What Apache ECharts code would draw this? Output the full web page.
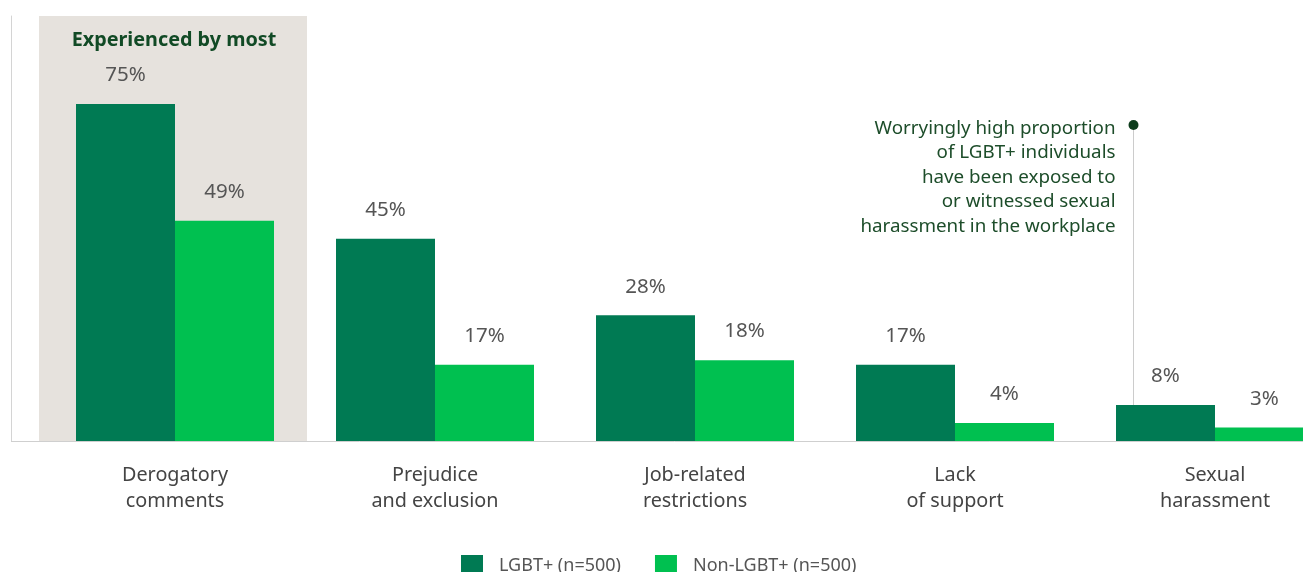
<!DOCTYPE html>
<html><head><meta charset="utf-8">
<script src="https://cdn.jsdelivr.net/npm/echarts@6/dist/echarts.min.js"></script>
<style>html,body{margin:0;padding:0;background:#fff}#c{width:1303px;height:572px}</style>
</head><body><div id="c"></div>
<script>
const categories = ['Derogatory\ncomments', 'Prejudice\nand exclusion', 'Job-related\nrestrictions', 'Lack\nof support', 'Sexual\nharassment'];
const lgbtValues = [75, 45, 28, 17, 8];
const nonLgbtValues = [49, 17, 18, 4, 3];
const seriesNames = ['LGBT+ (n=500)', 'Non-LGBT+ (n=500)'];
const highlightTitle = 'Experienced by most';
const noteText = 'Worryingly high proportion\nof LGBT+ individuals\nhave been exposed to\nor witnessed sexual\nharassment in the workplace';

const FONT = '"Noto Sans", "Open Sans", sans-serif';
const chart = echarts.init(document.getElementById('c'));
const labelStyle = {show: true, position: 'top', distance: 18, formatter: '{c}%', color: '#555', fontSize: 20.5, fontFamily: FONT};
chart.setOption({
  animation: false,
  grid: {left: 45, top: 16, width: 1300, height: 425, outerBoundsMode: 'none', containLabel: false},
  legend: {
    top: 550, left: 456, itemWidth: 22, itemHeight: 22, itemGap: 34,
    icon: 'rect',
    textStyle: {color: '#555', fontSize: 18, fontFamily: FONT, padding: [0, 0, 0, 11]},
    data: seriesNames
  },
  xAxis: {
    type: 'category', data: categories,
    axisLine: {show: true, lineStyle: {color: '#cfcfcf', width: 1}},
    axisTick: {show: false},
    axisLabel: {color: '#444', fontSize: 19.8, fontFamily: FONT, lineHeight: 26, margin: 21, interval: 0}
  },
  yAxis: {
    type: 'value', min: 0, max: 94.6, offset: 34,
    axisLine: {show: true, lineStyle: {color: '#d4d4d4', width: 1}},
    axisTick: {show: false}, axisLabel: {show: false}, splitLine: {show: false}
  },
  series: [
    {name: seriesNames[0], type: 'bar', data: lgbtValues, barWidth: 99, barGap: '0%',
     itemStyle: {color: '#007A53'}, label: labelStyle, z: 3},
    {name: seriesNames[1], type: 'bar', data: nonLgbtValues, barWidth: 99,
     itemStyle: {color: '#00C050'}, label: labelStyle, z: 3}
  ]
});

function place() {
  const base = chart.convertToPixel({xAxisIndex: 0, yAxisIndex: 0}, [0, 0]);
  const c0 = base[0];
  const yb = base[1];
  const top = chart.convertToPixel({yAxisIndex: 0}, 94.6);
  const lastX = chart.convertToPixel({xAxisIndex: 0}, 4);
  const noteX = Math.round(lastX - 82) + 0.5;
  chart.setOption({
    graphic: [
      {type: 'rect', z: -10, silent: true,
       shape: {x: c0 - 136, y: top, width: 268, height: yb - top},
       style: {fill: '#E6E2DD'}},
      {type: 'line', z: 5, silent: true,
       shape: {x1: 11, y1: yb + 0.5, x2: 46, y2: yb + 0.5},
       style: {stroke: '#cfcfcf', lineWidth: 1}},
      {type: 'text', z: 10, silent: true, x: c0 - 1, y: 40,
       style: {text: highlightTitle, fill: '#114A25', font: 'bold 19.8px ' + FONT, align: 'center', verticalAlign: 'middle'}},
      {type: 'line', z: 1, silent: true,
       shape: {x1: noteX, y1: 125, x2: noteX, y2: yb},
       style: {stroke: '#cccccc', lineWidth: 1}},
      {type: 'circle', z: 10, silent: true,
       shape: {cx: noteX, cy: 125, r: 5},
       style: {fill: '#0E3D1C'}},
      {type: 'text', z: 10, silent: true, x: noteX - 18, y: 116,
       style: {text: noteText, fill: '#1D4D2A', fontSize: 18.8, fontFamily: FONT, lineHeight: 24.5, align: 'right', verticalAlign: 'top'}}
    ]
  });
}
place();
</script></body></html>
